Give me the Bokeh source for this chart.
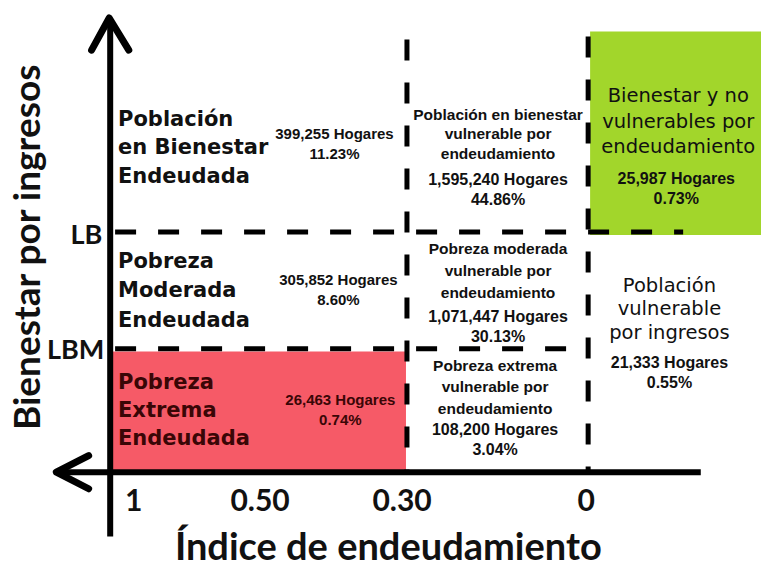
from bokeh.plotting import figure
from bokeh.models import Range1d
from bokeh.core.properties import value
from bokeh.embed import file_html
from bokeh.resources import INLINE

# ---------------- data ----------------
region_names = [
    "Población\nen Bienestar\nEndeudada",
    "Pobreza\nModerada\nEndeudada",
    "Pobreza\nExtrema\nEndeudada",
    "Población en bienestar\nvulnerable por\nendeudamiento",
    "Pobreza moderada\nvulnerable por\nendeudamiento",
    "Pobreza extrema\nvulnerable por\nendeudamiento",
    "Bienestar y no\nvulnerables por\nendeudamiento",
    "Población\nvulnerable\npor ingresos",
]
hogares = [399255, 305852, 26463, 1595240, 1071447, 108200, 25987, 21333]
porcentajes = [11.23, 8.60, 0.74, 44.86, 30.13, 3.04, 0.73, 0.55]
x_tick_labels = ["1", "0.50", "0.30", "0"]
umbral_labels = ["LB", "LBM"]
x_title = "Índice de endeudamiento"
y_title = "Bienestar por ingresos"

# ---------------- figure (diagram coordinates 777 x 584, y downwards) ----------------
W, H = 761, 568
p = figure(width=W, height=H, x_range=Range1d(0, 777), y_range=Range1d(584, 0),
           output_backend="svg", toolbar_location=None, min_border=0)
p.axis.visible = False
p.grid.visible = False
p.outline_line_color = None
p.background_fill_color = "white"

# geometry of the diagram
AX_X, AX_Y = 112, 485          # axis lines
LB_Y, LBM_Y = 238, 358         # thresholds
X030, X0 = 415, 600            # vertical dashed lines
tick_x = [136, 265, 410, 598]

# coloured regions
p.quad(left=[602], right=[777], top=[32], bottom=[241], fill_color="#a2d62b", line_color=None)
p.quad(left=[AX_X], right=[X030 - 1], top=[LBM_Y + 3], bottom=[AX_Y - 2], fill_color="#f65a67", line_color=None)

# dashed threshold lines
dash = "21 22"
p.line([AX_X + 5, 697], [LB_Y, LB_Y], line_width=5, line_color="black", line_dash=dash)
p.line([AX_X + 5, 596], [LBM_Y, LBM_Y], line_width=5, line_color="black", line_dash=dash)
p.line([X030, X030], [40, AX_Y], line_width=5, line_color="black", line_dash=dash)
p.line([X0, X0], [37, AX_Y], line_width=5, line_color="black", line_dash=dash)

# axes with arrows
p.line([AX_X, AX_X], [20, 551], line_width=6, line_color="black")
p.line([58, 715], [AX_Y, AX_Y], line_width=6, line_color="black")
p.line([93, AX_X - 1, 131], [51, 18, 51], line_width=7, line_color="black",
       line_join="round", line_cap="round")
p.line([90, 57, 90], [468, AX_Y, 502], line_width=7, line_color="black",
       line_join="round", line_cap="round")

# ---------------- texts ----------------
def multiline(text, x, y0, step, size, font, weight="bold", align="left", color="#111111"):
    lines = text.split("\n")
    p.text(x=[x] * len(lines), y=[y0 + i * step for i in range(len(lines))], text=lines,
           text_font=value(font), text_font_size=f"{size}px", text_font_style=weight,
           text_align=align, text_baseline="middle", text_color=color)

# layout per region: (name x, name y0, step, size, font, weight, align, count x, count y0, count size, colour)
layout = [
    (120, 122, 29, 21, "DejaVu Sans", "bold", "left", 341, 137, 15, "#111111"),
    (120, 268, 30, 21, "DejaVu Sans", "bold", "left", 345, 287, 15, "#111111"),
    (120, 392, 29, 21, "DejaVu Sans", "bold", "left", 347, 410, 15, "#3a0606"),
    (508, 117, 20, 15.5, "Liberation Sans", "bold", "center", 508, 184, 16, "#111111"),
    (508, 255, 22.5, 15.5, "Liberation Sans", "bold", "center", 508, 325, 16, "#111111"),
    (505, 375, 22, 15.5, "Liberation Sans", "bold", "center", 505, 441, 16, "#111111"),
    (692, 98, 26, 19.5, "DejaVu Sans", "normal", "center", 690, 183, 16, "#111111"),
    (683, 293, 24, 19.5, "DejaVu Sans", "normal", "center", 683, 372, 16, "#111111"),
]
for name, h, pc, lay in zip(region_names, hogares, porcentajes, layout):
    nx, ny, st, sz, font, wt, al, cx, cy, csz, col = lay
    multiline(name, nx, ny, st, sz, font, wt, al, col)
    multiline(f"{h:,} Hogares\n{pc:.2f}%", cx, cy, 20.5, csz, "Liberation Sans", "bold", "center", col)

# tick labels
p.text(x=tick_x, y=[514] * 4, text=x_tick_labels, text_font=value("Lato"),
       text_font_size="30px", text_font_style="bold", text_align="center",
       text_baseline="middle", text_color="#111111")
# threshold labels
p.text(x=[104, 106], y=[LB_Y + 2, LBM_Y], text=umbral_labels, text_font=value("Lato"),
       text_font_size="27px", text_font_style="bold", text_align="right",
       text_baseline="middle", text_color="#111111")
# axis titles
p.text(x=[396], y=[560], text=[x_title], text_font=value("Lato"), text_font_size="38px",
       text_font_style="bold", text_align="center", text_baseline="middle", text_color="#111111")
p.text(x=[26], y=[253], text=[y_title], angle=[1.5708], text_font=value("Lato"),
       text_font_size="37px", text_font_style="bold", text_align="center",
       text_baseline="middle", text_color="#111111")

open("out.html", "w").write(file_html(p, INLINE))
